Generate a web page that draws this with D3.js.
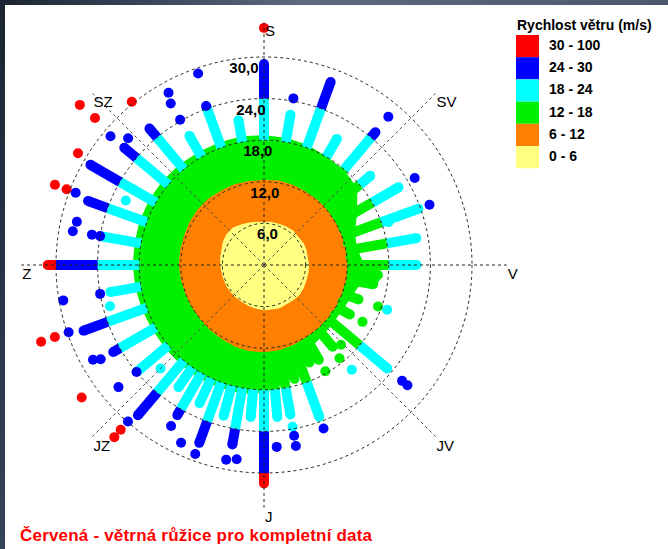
<!DOCTYPE html>
<meta charset="utf-8">
<style>
  body { margin: 0; background: #fff; }
  svg { display: block; }
</style>
<svg width="668" height="549"></svg>
<script src="https://d3js.org/d3.v7.min.js"></script>
<script>
// speed bands (m/s) and their colours
const bandLimits = [0, 6, 12, 18, 24, 30, 100];
const bandColors = ["#ffff80", "#ff8000", "#00f000", "#00ffff", "#0000ff", "#ff0000"];
const bandLabels = ["0 - 6", "6 - 12", "12 - 18", "18 - 24", "24 - 30", "30 - 100"];

const ringTicks = [6, 12, 18, 24, 30];
const ringLabels = ["6,0", "12,0", "18,0", "24,0", "30,0"];
const compassAngles = [0, 45, 90, 135, 180, 225, 270, 315];
const compassLabels = ["S", "SV", "V", "JV", "J", "JZ", "Z", "SZ"];

// outline of the densely filled part of each band, per direction (deg)
const edgeDirs = [0, 10, 20, 30, 40, 50, 60, 70, 80, 90, 100, 110, 120, 130, 140, 150, 160, 170,
                  180, 190, 200, 210, 220, 230, 240, 250, 260, 270, 280, 290, 300, 310, 320, 330, 340, 350];
const yellowEdge = [6.0, 6.1, 6.1, 6.2, 6.3, 6.2, 6.3, 6.3, 6.2, 6.3, 6.3, 6.3, 6.4, 6.5, 6.4, 6.3, 6.4, 6.3,
                    6.3, 6.2, 6.1, 6.0, 6.0, 6.0, 6.0, 6.0, 6.0, 6.1, 6.2, 6.3, 6.6, 6.8, 6.8, 6.5, 6.3, 6.1];
const orangeEdge = [12.0, 12.1, 12.0, 11.9, 11.9, 11.8, 11.7, 11.6, 11.5, 11.7, 11.8, 11.6, 11.5, 11.6, 11.7, 11.8, 12.0, 12.2,
                    12.3, 12.3, 12.2, 12.0, 11.9, 11.8, 11.8, 11.8, 11.9, 12.0, 12.0, 12.0, 12.1, 12.2, 12.2, 12.1, 12.1, 12.0];
const greenEdge = [18.3, 18.2, 18.0, 17.6, 17.5, 17.0, 15.0, 13.5, 13.2, 14.0, 13.8, 13.0, 12.6, 12.6, 12.8, 13.2, 14.5, 16.8,
                   18.0, 18.4, 18.4, 18.4, 18.3, 18.2, 18.2, 18.3, 18.4, 18.5, 18.5, 18.6, 18.6, 18.6, 18.5, 18.4, 18.4, 18.4];

// continuous streaks of observations: direction and highest speed reached
const rayDir = [0, 10, 20, 30, 40, 50, 60, 70, 80, 90, 100, 110, 120, 130, 140, 150, 160, 170, 175,
                180, 185, 190, 195, 200, 205, 210, 215, 220, 230, 240, 250, 260, 270, 280, 290, 300,
                310, 320, 330, 340, 350,
                95, 155, 165];
const rayMax = [29.0, 22.0, 28.1, 21.0, 25.0, 20.0, 22.4, 23.7, 22.3, 22.0, 16.0, 14.5, 14.3, 23.2, 15.4, 15.8, 23.3, 21.9, 22.0,
                31.5, 22.0, 26.3, 22.5, 27.3, 22.0, 25.0, 21.5, 28.3, 24.0, 25.1, 27.7, 22.5, 31.2, 24.0, 27.0, 28.9,
                26.3, 25.7, 21.5, 24.4, 21.2,
                16.5, 15.5, 17.0];

// isolated observations
const dotDir = [0, 10, 40, 60, 70, 71, 97, 110, 110, 120, 130, 130, 136, 140, 141, 150, 160, 170, 170, 170,
                176, 188, 191, 200, 205, 210, 221, 221, 221, 225, 230, 234, 240, 241, 251, 251, 251, 255,
                260, 260, 280, 283, 280, 291, 291, 291, 295, 301, 310, 313, 311, 311, 321, 330, 330, 331, 341];
const dotSpeed = [34.2, 24.4, 27.9, 25.1, 25.4, 19.0, 16.1, 17.5, 18.9, 16.4, 26.0, 27.0, 16.0, 19.7, 17.3, 17.7, 25.1, 23.7, 25.0, 26.5,
                  26.3, 28.3, 28.6, 29.0, 28.3, 26.8, 29.9, 31.5, 32.9, 21.1, 27.4, 32.5, 27.2, 28.2, 29.8, 31.9, 34.0, 23.0,
                  24.0, 29.4, 25.2, 27.7, 28.0, 29.1, 30.5, 32.3, 22.0, 31.3, 28.9, 26.8, 32.3, 35.2, 30.3, 24.2, 26.9, 28.4, 29.2];

const svg = d3.select("svg");
const W = 668, H = 549;
const cx = 264, cy = 265;
const dotR = 5;
const font = "Arial, 'Liberation Sans', sans-serif";

const r = d3.scaleLinear().domain([0, 30]).range([0, 208]);
const color = d3.scaleThreshold().domain(bandLimits.slice(1, -1)).range(bandColors);
const rad = d => d * Math.PI / 180;

// window frame of the screenshot
const defs = svg.append("defs");
const gTop = defs.append("linearGradient").attr("id", "topbar");
gTop.append("stop").attr("offset", "0%").attr("stop-color", "#1a2433");
gTop.append("stop").attr("offset", "45%").attr("stop-color", "#5b6a7e");
gTop.append("stop").attr("offset", "100%").attr("stop-color", "#4a596c");
const gLeft = defs.append("linearGradient").attr("id", "leftbar").attr("x2", 0).attr("y2", 1);
gLeft.append("stop").attr("offset", "0%").attr("stop-color", "#1a2433");
gLeft.append("stop").attr("offset", "100%").attr("stop-color", "#34445a");

svg.append("rect").attr("width", W).attr("height", H).attr("fill", "#fff");
svg.append("rect").attr("width", W).attr("height", 5).attr("fill", "url(#topbar)");
svg.append("rect").attr("width", 5).attr("height", H).attr("fill", "url(#leftbar)");

const plot = svg.append("g").attr("transform", `translate(${cx},${cy})`);

const area = vals => d3.areaRadial()
    .angle((d, i) => rad(edgeDirs[i]))
    .innerRadius(0)
    .outerRadius((d, i) => r(vals[i]))
    .curve(d3.curveLinearClosed)(vals);

// dense green region
plot.append("path").attr("d", area(greenEdge))
    .attr("fill", bandColors[2]).attr("stroke", bandColors[2])
    .attr("stroke-width", 6).attr("stroke-linejoin", "round");

// streaks, split by speed band
rayDir.forEach((dir, i) => {
  const g = plot.append("g");
  for (let b = 0; b < bandColors.length; b++) {
    const lo = bandLimits[b], hi = Math.min(bandLimits[b + 1], rayMax[i]);
    if (lo >= hi) continue;
    const p0 = d3.pointRadial(rad(dir), r(lo)), p1 = d3.pointRadial(rad(dir), r(hi));
    g.append("line")
        .attr("x1", p0[0]).attr("y1", p0[1]).attr("x2", p1[0]).attr("y2", p1[1])
        .attr("stroke", bandColors[b]).attr("stroke-width", dotR * 2);
  }
  const tip = d3.pointRadial(rad(dir), r(rayMax[i]));
  g.append("circle").attr("cx", tip[0]).attr("cy", tip[1]).attr("r", dotR)
      .attr("fill", color(rayMax[i]));
});

plot.append("path").attr("d", area(orangeEdge))
    .attr("fill", bandColors[1]).attr("stroke", bandColors[1])
    .attr("stroke-width", 4).attr("stroke-linejoin", "round");
plot.append("path").attr("d", area(yellowEdge))
    .attr("fill", bandColors[0]).attr("stroke", bandColors[0])
    .attr("stroke-width", 3).attr("stroke-linejoin", "round");

// isolated points
plot.selectAll("circle.dot")
  .data(dotDir)
  .join("circle")
    .attr("class", "dot")
    .attr("cx", (d, i) => d3.pointRadial(rad(d), r(dotSpeed[i]))[0])
    .attr("cy", (d, i) => d3.pointRadial(rad(d), r(dotSpeed[i]))[1])
    .attr("r", dotR)
    .attr("fill", (d, i) => color(dotSpeed[i]));

// grid rings
plot.selectAll("circle.ring")
  .data(ringTicks)
  .join("circle")
    .attr("class", "ring")
    .attr("r", d => r(d))
    .attr("fill", "none")
    .attr("stroke", "#222")
    .attr("stroke-dasharray", "3,3");

// direction axes
const axisEnd = r(35);
plot.selectAll("line.axis")
  .data(compassAngles)
  .join("line")
    .attr("class", "axis")
    .attr("x2", d => d3.pointRadial(rad(d), axisEnd)[0])
    .attr("y2", d => d3.pointRadial(rad(d), axisEnd)[1])
    .attr("stroke", d => d % 90 === 0 ? "#222" : "#555")
    .attr("stroke-dasharray", "3,3");

plot.selectAll("text.compass")
  .data(compassAngles)
  .join("text")
    .attr("class", "compass")
    .attr("x", d => d3.pointRadial(rad(d), axisEnd)[0] + 1)
    .attr("y", d => d3.pointRadial(rad(d), axisEnd)[1] + 14)
    .attr("font-family", font)
    .attr("font-size", 15)
    .attr("fill", "#000")
    .text((d, i) => compassLabels[i]);

plot.selectAll("text.ringlab")
  .data(ringTicks)
  .join("text")
    .attr("class", "ringlab")
    .attr("x", d => -r(d) / 6)
    .attr("y", d => -r(d) + 16)
    .attr("font-family", font)
    .attr("font-weight", "bold")
    .attr("font-size", 15)
    .attr("fill", "#000")
    .text((d, i) => ringLabels[i]);

// legend
const legend = svg.append("g").attr("transform", "translate(516,0)");
legend.append("text")
    .attr("x", 1).attr("y", 30)
    .attr("font-family", font)
    .attr("font-weight", "bold").attr("font-size", 14)
    .text("Rychlost větru (m/s)");
const rowH = 22.2;
const rows = bandLabels.map((l, i) => i).reverse();
legend.selectAll("rect.sw")
  .data(rows)
  .join("rect")
    .attr("class", "sw")
    .attr("x", 0).attr("y", (d, i) => 35 + i * rowH)
    .attr("width", 23).attr("height", rowH)
    .attr("fill", d => bandColors[d]);
legend.selectAll("text.lab")
  .data(rows)
  .join("text")
    .attr("class", "lab")
    .attr("x", 33).attr("y", (d, i) => 35 + i * rowH + 15)
    .attr("font-family", font)
    .attr("font-weight", "bold").attr("font-size", 14)
    .text(d => bandLabels[d]);

// caption
svg.append("text")
    .attr("x", 20).attr("y", 541)
    .attr("font-family", font)
    .attr("font-weight", "bold").attr("font-size", 17)
    .attr("letter-spacing", 0.2)
    .attr("fill", "#ff0000")
    .text("Červená - větrná růžice pro kompletní data");
</script>
